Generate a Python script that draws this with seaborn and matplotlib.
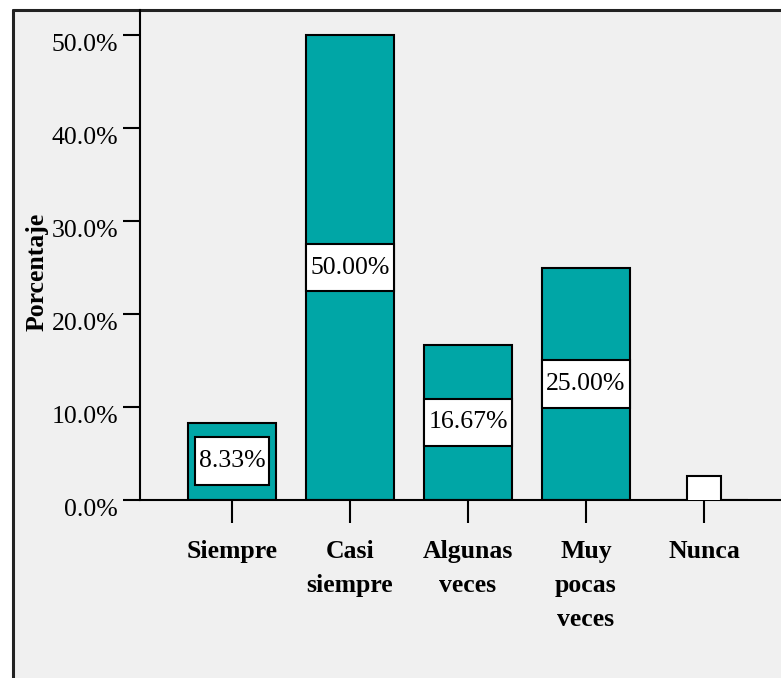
import matplotlib
matplotlib.use("Agg")
import matplotlib.pyplot as plt
from matplotlib.lines import Line2D
from matplotlib.patches import Rectangle
from matplotlib.path import Path
from matplotlib.transforms import ScaledTranslation
import seaborn as sns
import pandas as pd

# Data
categories = ["Siempre", "Casi\nsiempre", "Algunas\nveces", "Muy\npocas\nveces", "Nunca"]
percentages = [8.33, 50.00, 16.67, 25.00, 0.00]
y_ticks = [0, 10, 20, 30, 40, 50]
y_tick_labels = ["0.0%", "10.0%", "20.0%", "30.0%", "40.0%", "50.0%"]

df = pd.DataFrame({"categoria": categories, "porcentaje": percentages})

sns.set_theme(style="white")
plt.rcParams["font.family"] = ["Liberation Serif", "DejaVu Serif"]

BAR = "#00a6a6"
PANEL = "#f0f0f0"
FS = 18.5

W, H, DPI = 781, 678, 100
fig = plt.figure(figsize=(W / DPI, H / DPI), dpi=DPI, facecolor="white")

# Panel background and frame
fig.patches.append(Rectangle((13 / W, 0), 1, 1 - 10 / H, transform=fig.transFigure,
                             facecolor=PANEL, edgecolor="none", zorder=-2))
fig.lines.append(Line2D([13 / W, 13 / W], [0, 1 - 10 / H], transform=fig.transFigure,
                        color="#222222", lw=2.2, zorder=-1))
fig.lines.append(Line2D([13 / W, 1], [1 - 10 / H, 1 - 10 / H], transform=fig.transFigure,
                        color="#222222", lw=2.2, zorder=-1))

ax = fig.add_axes([140 / W, (H - 500) / H, 656 / W, 490 / H])
ax.set_facecolor("none")

sns.barplot(data=df, x="categoria", y="porcentaje", color=BAR, saturation=1,
            edgecolor="black", linewidth=1.5, width=0.75, ax=ax, zorder=2)

ax.set_xlim(-0.78, 4.78)
ax.set_ylim(0, 52.69)

for side in ["top", "right"]:
    ax.spines[side].set_visible(False)
for side in ["left", "bottom"]:
    ax.spines[side].set_linewidth(1.5)
    ax.spines[side].set_color("black")
    ax.spines[side].set_zorder(4)

ax.set_yticks(y_ticks)
ax.set_yticklabels(y_tick_labels, fontsize=FS)
ax.tick_params(axis="y", direction="out", length=12.2, width=1.5, pad=3.5, left=True,
               colors="black", labelcolor="black")
ax.tick_params(axis="x", direction="out", length=16.5, width=1.5, pad=12, bottom=True,
               colors="black", labelcolor="black")
for lab in ax.get_yticklabels():
    lab.set_transform(lab.get_transform() + ScaledTranslation(0, -7 / DPI, fig.dpi_scale_trans))
for lab in ax.get_xticklabels():
    lab.set_fontsize(FS)
    lab.set_fontweight("bold")
    lab.set_linespacing(1.62)

ax.set_xlabel("")
ax.set_ylabel("Porcentaje", fontsize=FS, fontweight="bold", color="black")
ax.yaxis.label.set_va("center")
ax.yaxis.set_label_coords((37 - 140) / 656, (500 - 272) / 490)


class LabelBox:
    """Rectangular label frame with separate horizontal and vertical padding."""

    def __init__(self, padx, pady):
        self.padx, self.pady = padx, pady

    def __call__(self, x0, y0, width, height, mutation_size):
        px, py = self.padx * mutation_size, self.pady * mutation_size
        x0, y0 = x0 - px, y0 - py
        x1, y1 = x0 + width + 2 * px, y0 + height + 2 * py
        return Path([(x0, y0), (x1, y0), (x1, y1), (x0, y1), (x0, y0)], closed=True)


# Value labels centred on each bar
for i, v in enumerate(percentages):
    txt = f"{v:.2f}%" if v > 0 else "    "
    ax.text(i, v / 2, txt, ha="center", va="center", fontsize=FS, color="black",
            zorder=5, clip_on=True,
            bbox=dict(boxstyle=LabelBox(0.15, 0.5), facecolor="white",
                      edgecolor="black", linewidth=1.5))

fig.savefig("out.png", dpi=DPI, facecolor=fig.get_facecolor())
